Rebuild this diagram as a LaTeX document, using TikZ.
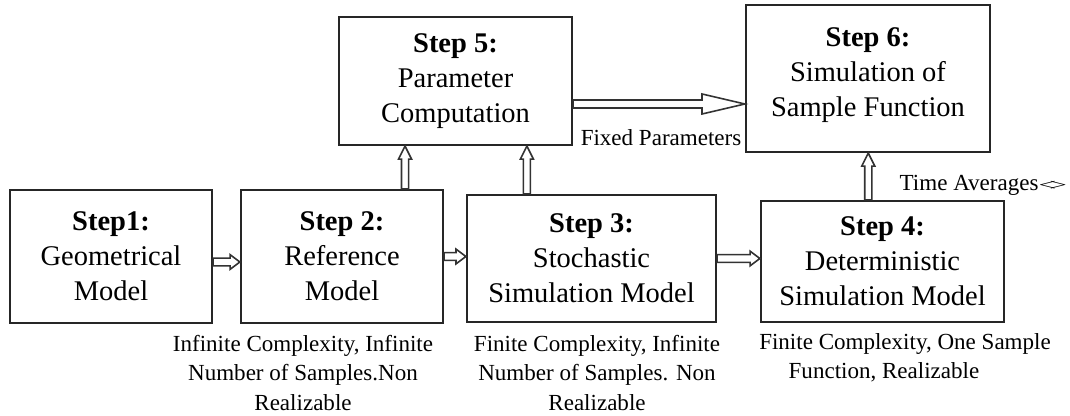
\documentclass[tikz,border=0pt]{standalone}
\usepackage{fontspec}
\setmainfont{Liberation Serif}
\usetikzlibrary{decorations.markings, calc}

\begin{document}
\begin{tikzpicture}[x=0.01cm, y=-0.01cm]
\tikzset{
    stepbox/.style={rectangle, draw=black!85, line width=0.6pt, align=center, inner sep=0pt, font=\fontsize{8.1}{10}\selectfont},
    note/.style={align=center, inner sep=0pt, font=\fontsize{6.55}{8.4}\selectfont},
    flow/.style n args={3}{decoration={markings, mark=at position 1 with {
        \draw[line width=0.45pt, draw=black!80, fill=white] (0pt,0pt) -- (-#1,#2) -- (-#1,#3)
            -- (-\pgfdecoratedpathlength,#3) -- (-\pgfdecoratedpathlength,-#3)
            -- (-#1,-#3) -- (-#1,-#2) -- cycle;}}, postaction=decorate}
}
\useasboundingbox (0,0) rectangle (1070,416);

% --- Lower row ---
\node (b1) at (111,256.5) [stepbox, minimum width=2.02cm, minimum height=1.33cm] {\textbf{Step1:}\\Geometrical\\Model};
\node (b2) at (342,256.5) [stepbox, minimum width=2.02cm, minimum height=1.33cm] {\textbf{Step 2:}\\Reference\\Model};
\node (b3) at (591.5,258.5) [stepbox, minimum width=2.49cm, minimum height=1.27cm] {\textbf{Step 3:}\\Stochastic\\Simulation Model};
\node (b4) at (882.5,261.5) [stepbox, minimum width=2.43cm, minimum height=1.21cm] {\textbf{Step 4:}\\Deterministic\\Simulation Model};

% --- Upper row ---
\node (b5) at (455.5,81) [stepbox, minimum width=2.33cm, minimum height=1.28cm] {\textbf{Step 5:}\\Parameter\\Computation};
\node (b6) at (868,78.5) [stepbox, minimum width=2.44cm, minimum height=1.47cm, text depth=3.5pt] {\textbf{Step 6:}\\Simulation of\\Sample Function};

% Flow along the lower row
\path[flow={2.8pt}{2.1pt}{1.1pt}] ([yshift=-0.055cm]b1.east) -- ([yshift=-0.055cm]b2.west);
\path[flow={2.8pt}{2.1pt}{1.1pt}] (b2.east) -- (b2.east -| b3.west);
\path[flow={2.8pt}{2.1pt}{1.1pt}] (b3.east) -- (b3.east -| b4.west);

% Up into steps 5 and 6
\path[flow={3.7pt}{1.85pt}{1pt}] (b2.47) -- (b2.47 |- b5.south);
\path[flow={3.7pt}{1.85pt}{1pt}] (b3.135) -- (b3.135 |- b5.south);
\path[flow={3.7pt}{1.85pt}{1pt}] (b4.103) -- (b4.103 |- b6.south);

% Parameters handed over to step 6
\coordinate (fp) at ($(b5.east)+(0,23)$);
\path[flow={12.2pt}{2.85pt}{1.14pt}] (fp) -- (fp -| b6.west);

% --- Labels ---
\node (fixed) at (742,138) [note, anchor=east] {Fixed Parameters};
\node (avg) at (899,185) [note, anchor=west] {Time Averages\scalebox{1.35}[0.7]{<\kern-0.22em>}};
\node (n2) at (303,373) [note] {Infinite Complexity, Infinite\\Number of Samples.Non\\Realizable};
\node (n3) at (597,373) [note] {Finite Complexity, Infinite\\Number of Samples. Non\\Realizable};
\node (n4) at (905,358) [note] {Finite Complexity, One Sample\\Function, Realizable\hspace*{0.42cm}};

\end{tikzpicture}
\end{document}
